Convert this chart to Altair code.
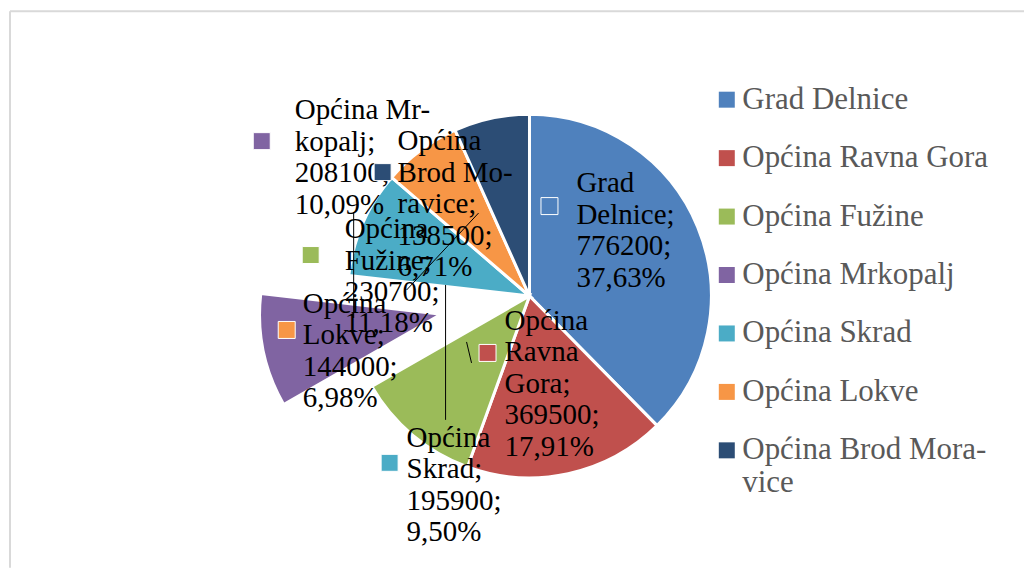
import math
import altair as alt
import pandas as pd

# ---------------- data ----------------
names = ["Grad Delnice", "Općina Ravna Gora", "Općina Fužine", "Općina Mrkopalj",
         "Općina Skrad", "Općina Lokve", "Općina Brod Moravice"]
values = [776200, 369500, 230700, 208100, 195900, 144000, 138500]

# wrapped name text used in the data labels (as printed)
label_names = ["Grad\nDelnice", "Općina\nRavna\nGora", "Općina\nFužine", "Općina Mr-\nkopalj",
               "Općina\nSkrad", "Općina\nLokve", "Općina\nBrod Mo-\nravice"]

# ---------------- style / layout ----------------
colors = ["#4F81BD", "#C0504D", "#9BBB59", "#8064A2", "#4BACC6", "#F79646", "#2C4D75"]
explode = [0, 0, 0, 90, 0, 0, 0]          # px the slice is pulled out
OX, OY = 8, 8                              # page origin of the plot area
CX, CY, R = 530 - OX, 296 - OY, 182        # pie centre & radius
# label text anchor (left x, first baseline y) in page px
lab_x = [577, 505, 345, 295, 407, 303, 398]
lab_y = [192, 330, 238, 119, 447, 313, 150]
# legend-key square centre inside the labels, page px
key_x = [550, 488, 311, 262, 390, 287, 383]
key_y = [206, 353, 255, 141, 463, 330, 172]
# leader lines, page px
lead_x1 = [446, 354, 479, 467]
lead_y1 = [285, 212, 213, 342]
lead_x2 = [446, 354, 407, 472]
lead_y2 = [420, 318, 290, 363]

total = sum(values)
pct = [f"{v / total * 100:.2f}".replace(".", ",") + "%" for v in values]

df = pd.DataFrame({
    "name": names,
    "value": values,
    "order": list(range(len(names))),
    "explode": explode,
    "text": [f"{n};\n{v};\n{p}" for n, v, p in zip(label_names, values, pct)],
    "lx": [x - OX for x in lab_x],
    "ly": [y - OY for y in lab_y],
    "kx": [x - OX for x in key_x],
    "ky": [y - OY for y in key_y],
})

color = alt.Color(
    "name:N",
    scale=alt.Scale(domain=names, range=colors),
    legend=alt.Legend(
        title=None, orient="none", legendX=704, legendY=76,
        symbolType="square", symbolSize=256, symbolStrokeWidth=0,
        labelFont="Liberation Serif", labelFontSize=31, labelColor="#595959",
        labelOffset=0, labelLimit=0, rowPadding=26.5, padding=0,
        labelExpr="datum.label == 'Općina Brod Moravice' ? ['Općina Brod Mora-', 'vice'] : datum.label",
    ),
)

pie = (
    alt.Chart(df)
    .transform_stack(stack="value", groupby=[], as_=["v0", "v1"], sort=[alt.SortField("order")])
    .transform_joinaggregate(total="sum(value)")
    .transform_calculate(
        a0="2*PI*datum.v0/datum.total",
        a1="2*PI*datum.v1/datum.total",
    )
    .transform_calculate(mid="(datum.a0+datum.a1)/2")
    .transform_calculate(
        cx=f"{CX}+datum.explode*sin(datum.mid)",
        cy=f"{CY}-datum.explode*cos(datum.mid)",
    )
    .mark_arc(radius=R, stroke="white", strokeWidth=3)
    .encode(
        theta=alt.Theta("a0:Q", scale=None),
        theta2="a1:Q",
        x=alt.X("cx:Q", scale=None, axis=None),
        y=alt.Y("cy:Q", scale=None, axis=None),
        color=color,
        order=alt.Order("order:Q"),
    )
)

labels = (
    alt.Chart(df)
    .mark_text(align="left", baseline="alphabetic", font="Liberation Serif",
               fontSize=29, lineHeight=31.5, lineBreak="\n", color="black")
    .encode(
        x=alt.X("lx:Q", scale=None, axis=None),
        y=alt.Y("ly:Q", scale=None, axis=None),
        text="text:N",
    )
)

keys = (
    alt.Chart(df)
    .mark_square(size=289, stroke="white", strokeWidth=1, opacity=1, filled=True)
    .encode(
        x=alt.X("kx:Q", scale=None, axis=None),
        y=alt.Y("ky:Q", scale=None, axis=None),
        color=alt.Color("name:N", scale=alt.Scale(domain=names, range=colors), legend=None),
    )
)

lead_df = pd.DataFrame({
    "x1": [v - OX for v in lead_x1], "y1": [v - OY for v in lead_y1],
    "x2": [v - OX for v in lead_x2], "y2": [v - OY for v in lead_y2],
})
leaders = (
    alt.Chart(lead_df)
    .mark_rule(color="black", strokeWidth=1)
    .encode(
        x=alt.X("x1:Q", scale=None, axis=None), y=alt.Y("y1:Q", scale=None, axis=None),
        x2="x2:Q", y2="y2:Q",
    )
)

frame_df = pd.DataFrame({"x1": [2, 2], "y1": [3, 3], "x2": [2, 1017], "y2": [560, 3]})
frame = (
    alt.Chart(frame_df)
    .mark_rule(color="#d9d9d9", strokeWidth=2)
    .encode(
        x=alt.X("x1:Q", scale=None, axis=None), y=alt.Y("y1:Q", scale=None, axis=None),
        x2="x2:Q", y2="y2:Q",
    )
)

chart = (
    alt.layer(frame, pie, leaders, labels, keys)
    .properties(width=1015, height=552, padding=0)
    .configure_view(stroke=None)
)

chart.save("out.html", embed_options={"renderer": "svg", "actions": False})
